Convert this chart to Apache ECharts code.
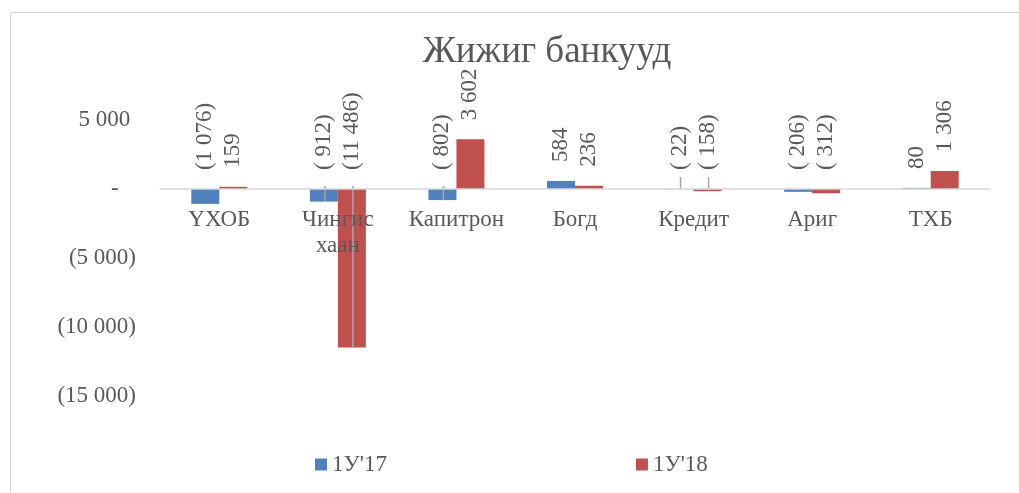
<!DOCTYPE html>
<html>
<head>
<meta charset="utf-8">
<script src="https://cdn.jsdelivr.net/npm/echarts@6/dist/echarts.min.js"></script>
<style>html,body{margin:0;padding:0;background:#fff}#c{width:1019px;height:493px}</style>
</head>
<body>
<div id="c"></div>
<script>
var categories = ['ҮХОБ', 'Чингис\nхаан', 'Капитрон', 'Богд', 'Кредит', 'Ариг', 'ТХБ'];
var series1Name = "1У'17";
var series2Name = "1У'18";
var series1 = [-1076, -912, -802, 584, -22, -206, 80];
var series2 = [159, -11486, 3602, 236, -158, -312, 1306];
var yTicks = [-15000, -10000, -5000, 0, 5000];
// label leader lines: [category index, series index (0 = 1У'17, 1 = 1У'18)]
var leaderItems = [[1, 0], [1, 1], [2, 0], [4, 0], [4, 1]];

function grp(n) {
  return String(Math.abs(n)).replace(/\B(?=(\d{3})+(?!\d))/g, ' ');
}
function fmtLabel(v) {
  if (v < 0) return Math.abs(v) < 1000 ? '( ' + grp(v) + ')' : '(' + grp(v) + ')';
  return grp(v);
}
function fmtAxis(v) {
  if (v === 0) return '-   ';
  if (v < 0) return '(' + grp(v) + ')';
  return grp(v) + ' ';
}
var FONT = 'Liberation Serif';
var GRAY = '#595959';
var FS = 23;
var BAR_W = 28;
var chart = echarts.init(document.getElementById('c'));
var lbl = {
  show: true, position: 'top', rotate: 90, align: 'left', verticalAlign: 'middle',
  distance: 19, fontFamily: FONT, fontSize: FS, color: GRAY, formatter: function (p) { return fmtLabel(p.value); }
};
var gridTop = 120, gridBottom = 97, gridH = 493 - gridTop - gridBottom;
var yMax = yTicks[yTicks.length - 1], yMin = yTicks[0];
var zeroY = gridTop + gridH * (yMax / (yMax - yMin));
var allSeries = [series1, series2];
var leaderData = leaderItems.map(function (d) { return [d[0], allSeries[d[1]][d[0]], d[1]]; });

chart.setOption({
  animation: false,
  graphic: [{ type: 'rect', shape: { x: 10.5, y: 12.5, width: 1100, height: 600 }, style: { fill: 'none', stroke: '#d9d9d9', lineWidth: 1 } }],
  title: {
    text: 'Жижиг банкууд', left: 542, top: 29, textAlign: 'center',
    textStyle: { fontFamily: FONT, fontSize: 37, fontWeight: 'normal', color: GRAY }
  },
  legend: {
    data: [series1Name, series2Name], left: 310, top: 448, itemWidth: 12, itemHeight: 12, itemGap: 249,
    icon: 'rect', textStyle: { fontFamily: FONT, fontSize: FS, color: GRAY }
  },
  grid: { left: 160, right: 29, top: gridTop, bottom: gridBottom, containLabel: false },
  xAxis: {
    type: 'category', data: categories, z: 10,
    offset: -(493 - gridBottom - zeroY),
    axisLine: { onZero: false, lineStyle: { color: '#d9d9d9', width: 1.5 } },
    axisTick: { show: false },
    axisLabel: { fontFamily: FONT, fontSize: FS, color: GRAY, margin: 18, lineHeight: 26, interval: 0 }
  },
  yAxis: {
    type: 'value', min: yMin, max: yMax, interval: 5000,
    splitLine: { show: false }, axisLine: { show: false }, axisTick: { show: false },
    axisLabel: { fontFamily: FONT, fontSize: FS, color: GRAY, margin: 24, formatter: fmtAxis }
  },
  series: [
    { name: series1Name, type: 'bar', data: series1, barWidth: BAR_W, barGap: '0%', itemStyle: { color: '#4F81BD' }, label: lbl },
    { name: series2Name, type: 'bar', data: series2, barWidth: BAR_W, barGap: '0%', itemStyle: { color: '#C0504D' }, label: lbl },
    {
      type: 'custom', z: 5, silent: true, data: leaderData,
      renderItem: function (params, api) {
        var p0 = api.coord([api.value(0), 0]);
        var p1 = api.coord([api.value(0), api.value(1)]);
        var x = p0[0] + (api.value(2) === 0 ? -BAR_W / 2 : BAR_W / 2) + 1;
        var rise = Math.abs(p1[1] - p0[1]) < 8 ? 12 : 3;
        return {
          type: 'line',
          shape: { x1: x, y1: p0[1] - rise, x2: x, y2: p1[1] },
          style: { stroke: '#a6a6a6', lineWidth: 1.5 }
        };
      }
    }
  ]
});
</script>
</body>
</html>
